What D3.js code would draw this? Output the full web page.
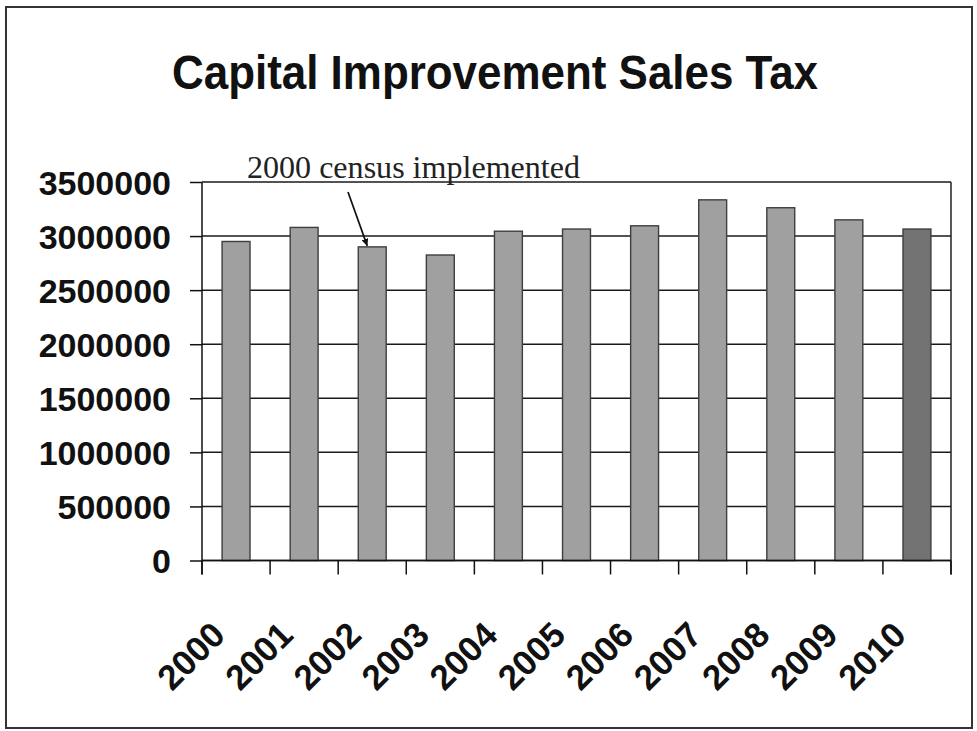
<!DOCTYPE html>
<html>
<head>
<meta charset="utf-8">
<script src="https://cdn.jsdelivr.net/npm/d3@7"></script>
<style>
  html, body { margin: 0; padding: 0; background: #fff; }
  svg { display: block; }
</style>
</head>
<body>
<svg id="chart" width="977" height="731"></svg>
<script>
// Annual revenue from the capital improvement sales tax
const years = ["2000", "2001", "2002", "2003", "2004", "2005", "2006", "2007", "2008", "2009", "2010"];
const revenue = [2950000, 3080000, 2900000, 2825000, 3045000, 3065000, 3095000, 3335000, 3262000, 3150000, 3065000];
const yTicks = [0, 500000, 1000000, 1500000, 2000000, 2500000, 3000000, 3500000];
const titleText = "Capital Improvement Sales Tax";
const noteText = "2000 census implemented";
const noteYear = "2002";

const svg = d3.select("#chart");

// outer frame
svg.append("rect")
  .attr("x", 6).attr("y", 7).attr("width", 966).attr("height", 721)
  .attr("fill", "#fff").attr("stroke", "#333").attr("stroke-width", 2);

// title
svg.append("text")
  .attr("x", 172).attr("y", 89)
  .attr("textLength", 646).attr("lengthAdjust", "spacingAndGlyphs")
  .attr("font-family", "Liberation Sans, Arial, sans-serif")
  .attr("font-weight", "bold").attr("font-size", 49)
  .attr("fill", "#111")
  .text(titleText);

const plot = { left: 202, right: 951, top: 182, bottom: 560.5 };

const x = d3.scaleBand().domain(years).range([plot.left, plot.right]).padding(0);
const y = d3.scaleLinear().domain([0, 3500000]).range([plot.bottom, plot.top]);

// horizontal gridlines
svg.append("g")
  .selectAll("line")
  .data(yTicks)
  .join("line")
  .attr("x1", plot.left).attr("x2", plot.right)
  .attr("y1", d => y(d)).attr("y2", d => y(d))
  .attr("stroke", "#1a1a1a").attr("stroke-width", 1.5);

// right border of the plot area
svg.append("line")
  .attr("x1", plot.right).attr("x2", plot.right)
  .attr("y1", plot.top).attr("y2", plot.bottom + 14)
  .attr("stroke", "#222").attr("stroke-width", 1.5);

// bars
const barW = x.bandwidth() * 0.41;
svg.append("g")
  .selectAll("rect")
  .data(years.map((yr, i) => ({ yr, v: revenue[i] })))
  .join("rect")
  .attr("x", d => x(d.yr) + (x.bandwidth() - barW) / 2)
  .attr("y", d => y(d.v))
  .attr("width", barW)
  .attr("height", d => y(0) - y(d.v))
  .attr("fill", d => d.yr === "2010" ? "#727272" : "#a0a0a0")
  .attr("stroke", "#3e3e3e").attr("stroke-width", 1.4);

// y axis
const yAxis = d3.axisLeft(y).tickValues(yTicks).tickSize(12).tickPadding(19)
  .tickFormat(d3.format("d"));
const gy = svg.append("g").attr("transform", `translate(${plot.left},0)`).call(yAxis);
gy.select(".domain").attr("stroke", "#111").attr("stroke-width", 1.5)
  .attr("d", `M0,${plot.top}V${plot.bottom + 14}`);
gy.selectAll(".tick line").attr("stroke", "#111").attr("stroke-width", 1.5);
gy.selectAll(".tick text")
  .attr("font-family", "Liberation Sans, Arial, sans-serif")
  .attr("font-weight", "bold").attr("font-size", 34)
  .attr("fill", "#111")
  .attr("dy", "0.36em");

// x axis: ticks on category boundaries
const bounds = years.map(yr => x(yr)).concat([plot.right]);
svg.append("line")
  .attr("x1", plot.left).attr("x2", plot.right)
  .attr("y1", plot.bottom).attr("y2", plot.bottom)
  .attr("stroke", "#111").attr("stroke-width", 1.5);
svg.append("g")
  .selectAll("line")
  .data(bounds)
  .join("line")
  .attr("x1", d => d).attr("x2", d => d)
  .attr("y1", plot.bottom).attr("y2", plot.bottom + 14)
  .attr("stroke", "#111").attr("stroke-width", 1.5);

// rotated year labels
svg.append("g")
  .selectAll("text")
  .data(years)
  .join("text")
  .attr("transform", d => `translate(${x(d) + x.bandwidth() / 2 - 9},637) rotate(-45)`)
  .attr("text-anchor", "end")
  .attr("font-family", "Liberation Sans, Arial, sans-serif")
  .attr("font-weight", "bold").attr("font-size", 35)
  .attr("fill", "#111")
  .text(d => d);

// annotation with arrow
const defs = svg.append("defs");
defs.append("marker")
  .attr("id", "arrowhead")
  .attr("viewBox", "0 0 10 10")
  .attr("refX", 10).attr("refY", 5)
  .attr("markerWidth", 7).attr("markerHeight", 7)
  .attr("markerUnits", "userSpaceOnUse")
  .attr("orient", "auto")
  .append("path").attr("d", "M0,0L10,5L0,10Z").attr("fill", "#111");

const noteIdx = years.indexOf(noteYear);
const tipX = x(noteYear) + (x.bandwidth() - barW) / 2 + 9;
const tipY = y(revenue[noteIdx]) - 1;
svg.append("line")
  .attr("x1", 348).attr("y1", 192)
  .attr("x2", tipX).attr("y2", tipY)
  .attr("stroke", "#111").attr("stroke-width", 1.7)
  .attr("marker-end", "url(#arrowhead)");

svg.append("text")
  .attr("x", 247).attr("y", 178)
  .attr("textLength", 333).attr("lengthAdjust", "spacingAndGlyphs")
  .attr("font-family", "Liberation Serif, Times New Roman, serif")
  .attr("font-size", 32)
  .attr("fill", "#222")
  .text(noteText);
</script>
</body>
</html>
